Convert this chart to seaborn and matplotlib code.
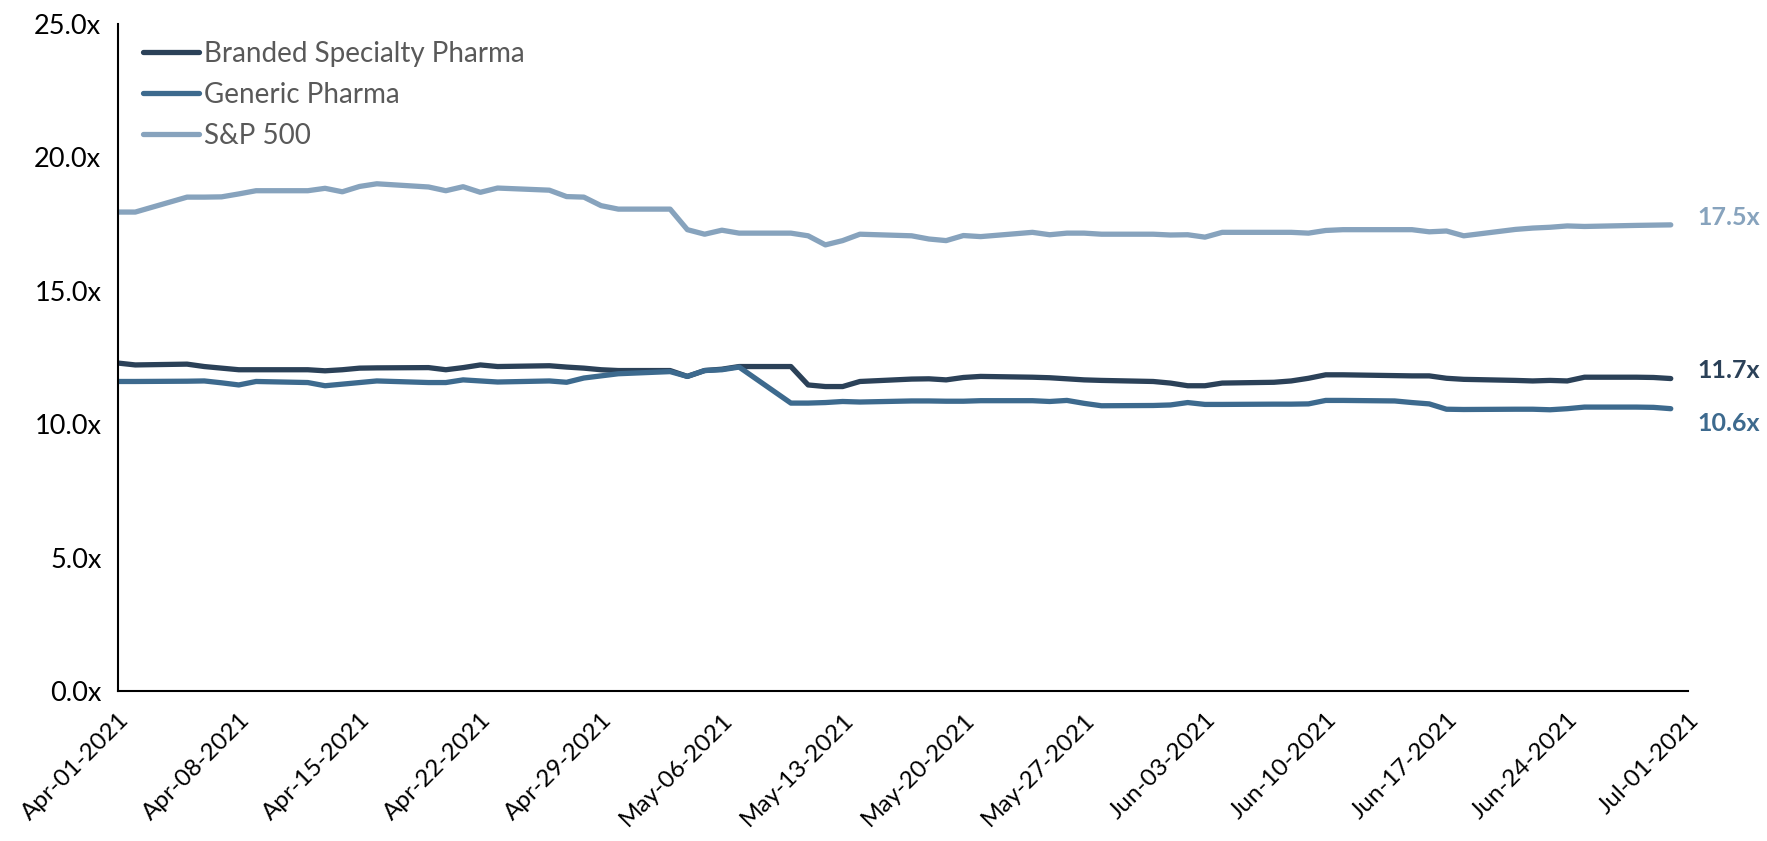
import pandas as pd
import seaborn as sns
import matplotlib.pyplot as plt
import matplotlib.dates as mdates
from matplotlib.ticker import FuncFormatter

# 数据：2021-04-01 至 2021-06-30 每个工作日
dates = pd.bdate_range('2021-04-01', '2021-06-30')

branded = [
    12.29, 12.22, 12.25, 12.16, 12.10, 12.04, 12.04, 12.04, 12.00, 12.04, 12.10, 12.11,
    12.12, 12.04, 12.12, 12.22, 12.16, 12.19, 12.14, 12.10, 12.04, 12.01,
    12.01, 11.79, 12.01, 12.06, 12.16, 12.16, 11.47, 11.41, 11.41, 11.60,
    11.69, 11.70, 11.66, 11.75, 11.79, 11.76, 11.74, 11.70, 11.66, 11.64, 11.60,
    11.54, 11.44, 11.44, 11.54, 11.57, 11.62, 11.72, 11.85, 11.85,
    11.82, 11.81, 11.81, 11.72, 11.68, 11.64, 11.62, 11.64, 11.62, 11.76,
    11.76, 11.75, 11.71,
]
generic = [
    11.60, 11.60, 11.61, 11.62, 11.55, 11.47, 11.60, 11.56, 11.44, 11.50, 11.56, 11.62,
    11.56, 11.56, 11.66, 11.62, 11.58, 11.62, 11.57, 11.73, 11.81, 11.89,
    11.97, 11.79, 12.01, 12.04, 12.14, 10.79, 10.79, 10.81, 10.85, 10.83,
    10.87, 10.87, 10.86, 10.86, 10.88, 10.88, 10.85, 10.89, 10.78, 10.69, 10.70,
    10.72, 10.81, 10.74, 10.74, 10.75, 10.75, 10.76, 10.89, 10.89,
    10.87, 10.81, 10.76, 10.56, 10.55, 10.56, 10.56, 10.54, 10.58, 10.64,
    10.64, 10.63, 10.58,
]
sp500 = [
    17.95, 17.95, 18.51, 18.51, 18.52, 18.63, 18.75, 18.75, 18.84, 18.71, 18.91, 19.01,
    18.89, 18.75, 18.90, 18.69, 18.85, 18.77, 18.53, 18.51, 18.19, 18.06,
    18.06, 17.29, 17.12, 17.27, 17.16, 17.16, 17.06, 16.72, 16.88, 17.12,
    17.06, 16.94, 16.88, 17.07, 17.03, 17.19, 17.10, 17.16, 17.16, 17.12, 17.12,
    17.09, 17.10, 17.01, 17.19, 17.19, 17.19, 17.16, 17.26, 17.29,
    17.29, 17.29, 17.21, 17.24, 17.06, 17.30, 17.35, 17.38, 17.43, 17.41,
    17.45, 17.46, 17.47,
]
series_names = ['Branded Specialty Pharma', 'Generic Pharma', 'S&P 500']
colors = ['#2B4158', '#3D6A8E', '#87A3BD']
end_labels = ['11.7x', '10.6x', '17.5x']

data = pd.concat([
    pd.DataFrame({'日期': dates, '倍数': vals, '系列': name})
    for name, vals in zip(series_names, [branded, generic, sp500])
])

sns.set_theme(style='white')
plt.rcParams['font.family'] = ['Lato', 'DejaVu Sans']

fig = plt.figure(figsize=(17.67, 8.41), dpi=100)
ax = fig.add_axes([0.0668, 0.1784, 0.8885, 0.7931])

sns.lineplot(data=data, x='日期', y='倍数', hue='系列', palette=colors,
             linewidth=3.8, ax=ax, solid_capstyle='round')

ax.set_xlim(pd.Timestamp('2021-04-01'), pd.Timestamp('2021-07-01'))
ax.set_ylim(0, 25)
ax.set_yticks([0, 5, 10, 15, 20, 25])
ax.yaxis.set_major_formatter(FuncFormatter(lambda v, p: f'{v:.1f}x'))
ax.set_xticks(pd.date_range('2021-04-01', '2021-07-01', freq='7D'))
ax.xaxis.set_major_formatter(mdates.DateFormatter('%b-%d-%Y'))
ax.set_xlabel('')
ax.set_ylabel('')

for s in ['top', 'right']:
    ax.spines[s].set_visible(False)
for s in ['left', 'bottom']:
    ax.spines[s].set_color('black')
    ax.spines[s].set_linewidth(1.5)

ax.tick_params(axis='both', which='major', direction='out', color='black',
               width=1.5, labelcolor='black')
ax.tick_params(axis='y', length=8, pad=4, labelsize=19.5)
ax.tick_params(axis='x', length=10, pad=3, labelsize=17.5)
plt.setp(ax.get_xticklabels(), rotation=45, ha='right', va='top', rotation_mode='anchor')

# 末端数值标签
offsets = [6, -11, 5]
for vals, lab, col, dy in zip([branded, generic, sp500], end_labels, colors, offsets):
    ax.annotate(lab, xy=(dates[-1], vals[-1]), xytext=(19, dy), textcoords='offset points',
                color=col, fontsize=18, fontweight='bold', va='center', ha='left',
                annotation_clip=False)

leg = ax.legend(loc='upper left', bbox_to_anchor=(0.016, 0.975), frameon=False,
                fontsize=20, handlelength=2.0, handletextpad=0.2, labelspacing=0.55,
                borderpad=0, borderaxespad=0)
for t in leg.get_texts():
    t.set_color('#595959')
for h in leg.get_lines():
    h.set_linewidth(3.8)

fig.savefig('out.png', dpi=100)
